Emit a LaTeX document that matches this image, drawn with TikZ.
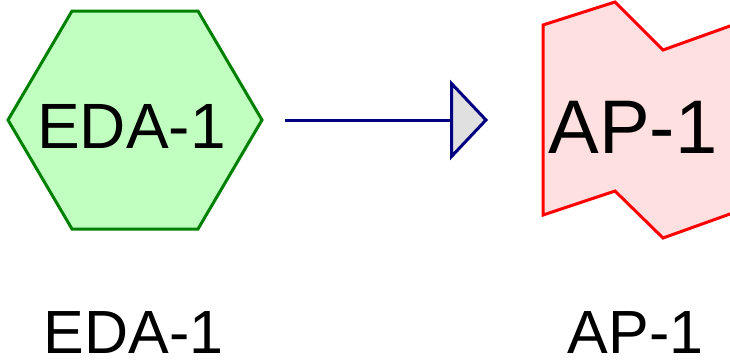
\documentclass[tikz,border=0pt]{standalone}
\usepackage{fontspec}
\setmainfont{Liberation Sans}
\usetikzlibrary{arrows.meta}
\definecolor{hexfill}{HTML}{C0FFC0}
\definecolor{hexline}{HTML}{008000}
\definecolor{apfill}{HTML}{FFE0E0}
\definecolor{apline}{HTML}{FF0000}
\definecolor{arrline}{HTML}{000080}
\definecolor{tipfill}{HTML}{E0E0E0}
\tikzset{
  lbl/.style={anchor=base, inner sep=0pt, text depth=0pt, font=\fontsize{61}{61}\selectfont},
  hexshape/.style={draw=hexline, fill=hexfill, line width=3pt, line join=miter},
  apshape/.style={draw=apline, fill=apfill, line width=3pt, line join=miter},
  conn/.style={draw=arrline, line width=3pt, -{Triangle[length=38pt,width=80pt,fill=tipfill]}}
}
\begin{document}
\begin{tikzpicture}[x=1pt,y=-1pt]
\useasboundingbox (0,0) rectangle (730,362);
\clip (0,0) rectangle (730,362);
\draw[hexshape] (8,120) -- (72,11) -- (198,11) -- (262,120) -- (198,229) -- (72,229) -- cycle;
\node[anchor=base, inner sep=0pt, font=\fontsize{64}{64}\selectfont] (edatext) at (131.5,148) {EDA-1};
\draw[apshape] (543,25) -- (615,2) -- (663,50) -- (730,26) -- (760,15) -- (760,203) -- (730,214) -- (663,238) -- (615,191) -- (543,215) -- cycle;
\node[anchor=base, inner sep=0pt, font=\fontsize{76}{76}\selectfont] (aptext) at (633,153) {AP-1};
\coordinate (from) at (285,120);
\coordinate (to) at (488,120);
\draw[conn] (from) -- (to);
\node[lbl] (edalbl) at (133.5,353) {EDA-1};
\node[lbl] (aplbl) at (635.5,353) {AP-1};
\end{tikzpicture}
\end{document}
